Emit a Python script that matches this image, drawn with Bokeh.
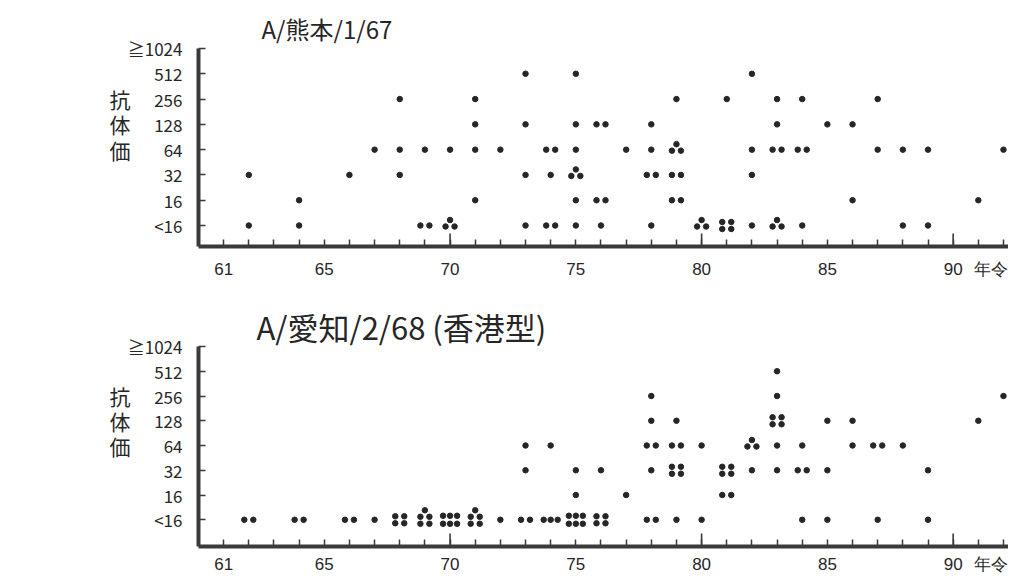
from bokeh.plotting import figure
from bokeh.models import FixedTicker, Range1d, LinearAxis
from bokeh.layouts import column
from bokeh.embed import file_html
from bokeh.resources import INLINE

# ---------------- data ----------------
titer_labels = ["<16", "16", "32", "64", "128", "256", "512", "≧1024"]
x_label_years = [61, 65, 70, 75, 80, 85, 90]
tick_years = list(range(61, 93))
decade_years = [70, 80, 90]
y_chars = ["抗", "体", "価"]
y_char_levels = [5, 4, 3]
x_title = "年令"

# A/熊本/1/67 : age (year), titer level index, number of sera
kum_year = [62, 62, 64, 64, 66, 67, 68, 68, 68, 69, 69, 70, 70, 71, 71, 71, 71, 72,
            73, 73, 73, 73, 74, 74, 74, 75, 75, 75, 75, 75, 75, 76, 76, 76, 77,
            78, 78, 78, 78, 79, 79, 79, 79, 80, 81, 81, 82, 82, 82, 82,
            83, 83, 83, 83, 84, 84, 84, 85, 86, 86, 87, 87, 88, 88, 89, 89, 91, 92]
kum_level = [2, 0, 1, 0, 2, 3, 5, 3, 2, 3, 0, 3, 0, 5, 4, 3, 1, 3,
             6, 4, 2, 0, 3, 2, 0, 6, 4, 3, 2, 1, 0, 4, 1, 0, 3,
             4, 3, 2, 0, 5, 3, 2, 1, 0, 5, 0, 6, 3, 2, 0,
             5, 4, 3, 0, 5, 3, 0, 4, 4, 1, 5, 3, 3, 0, 3, 0, 1, 3]
kum_count = [1, 1, 1, 1, 1, 1, 1, 1, 1, 1, 2, 1, 3, 1, 1, 1, 1, 1,
             1, 1, 1, 1, 2, 1, 2, 1, 1, 1, 3, 1, 1, 2, 2, 1, 1,
             1, 1, 2, 1, 1, 3, 2, 2, 3, 1, 4, 1, 1, 1, 1,
             1, 1, 2, 3, 1, 2, 1, 1, 1, 1, 1, 1, 1, 1, 1, 1, 1, 1]
kum_rows = []

# A/愛知/2/68 (香港型)
aic_year = [62, 64, 66, 67, 68, 69, 70, 71, 72, 73, 73, 73, 74, 74, 75, 75, 75, 76, 76, 77,
            78, 78, 78, 78, 78, 79, 79, 79, 79, 80, 80, 81, 81, 82, 82,
            83, 83, 83, 83, 83, 84, 84, 84, 85, 85, 85, 86, 86, 87, 87, 88, 89, 89, 91, 92]
aic_level = [0, 0, 0, 0, 0, 0, 0, 0, 0, 3, 2, 0, 3, 0, 2, 1, 0, 2, 0, 1,
             5, 4, 3, 2, 0, 4, 3, 2, 0, 3, 0, 2, 1, 3, 2,
             6, 5, 4, 3, 2, 3, 2, 0, 4, 2, 0, 4, 3, 3, 0, 3, 2, 0, 4, 5]
aic_count = [2, 2, 2, 1, 4, 5, 6, 5, 1, 1, 1, 2, 1, 3, 1, 1, 6, 1, 4, 1,
             1, 1, 2, 1, 2, 1, 2, 4, 1, 1, 1, 4, 2, 3, 1,
             1, 1, 4, 1, 1, 1, 2, 1, 1, 1, 1, 1, 1, 2, 1, 1, 1, 1, 1, 1]
aic_rows = [(74, 0)]

# ---------------- styling ----------------
FONT = "Noto Sans CJK JP"
NUMFONT = "Liberation Sans"
INK = "#262626"
AXIS = "#3a3a3a"
FIG_W = 1008
BORDER_LEFT = 198
X_START, X_END = 60.0, 92.2
Y_END = 7.0
DOT = 5.5

# cluster arrangements in screen pixels (y up)
PATTERNS = {
    1: [(0, 0)],
    2: [(-4.5, 0), (4.5, 0)],
    3: [(-4.5, -1), (4.5, -1), (0, 5.5)],
    4: [(-4.5, 3.5), (4.5, 3.5), (-4.5, -3.5), (4.5, -3.5)],
    5: [(0, 9.5), (-4.5, 3), (4.5, 3), (-4.5, -4), (4.5, -4)],
    6: [(-7, 4), (0, 4), (7, 4), (-7, -4), (0, -4), (7, -4)],
}
ROW3 = [(-7, 0), (0, 0), (7, 0)]


def build(title, title_size, title_dx, title_standoff, years, levels, counts, rows,
          height, border_top, border_bottom, y_start, x_standoff):
    frame_w = FIG_W - BORDER_LEFT
    frame_h = height - border_top - border_bottom
    ppx = frame_w / (X_END - X_START)
    ppy = frame_h / (Y_END - y_start)

    p = figure(width=FIG_W, height=height, title=title,
               x_range=Range1d(X_START, X_END), y_range=Range1d(y_start, Y_END),
               output_backend="svg", toolbar_location=None,
               min_border_left=BORDER_LEFT, min_border_right=0,
               min_border_top=border_top, min_border_bottom=border_bottom)
    p.outline_line_color = None
    p.xgrid.visible = False
    p.ygrid.visible = False
    p.background_fill_color = "white"
    p.border_fill_color = "white"

    p.title.align = "left"
    p.title.offset = title_dx
    p.title.standoff = title_standoff
    p.title.text_font = FONT
    p.title.text_font_size = f"{title_size}px"
    p.title.text_font_style = "normal"
    p.title.text_color = INK

    xs, ys = [], []
    for yr, lv, n in zip(years, levels, counts):
        pattern = ROW3 if (yr, lv) in rows else PATTERNS[n]
        for dx, dy in pattern:
            xs.append(yr + dx / ppx)
            ys.append(lv + dy / ppy)
    p.scatter(xs, ys, size=DOT, color=INK, line_color=INK)

    # taller ticks at the decades
    p.segment(x0=decade_years, y0=[y_start] * len(decade_years),
              x1=decade_years, y1=[y_start + 13 / ppy] * len(decade_years),
              line_color=AXIS, line_width=1.6)

    # x axis: visible ticks are the yearly minor ticks; major ticks only carry labels
    title_pos = x_label_years[-1] + 38 / ppx
    xa = p.xaxis[0]
    xa.ticker = FixedTicker(ticks=x_label_years + [title_pos], minor_ticks=tick_years)
    xa.major_label_overrides = {title_pos: x_title}
    xa.axis_line_width = 4
    xa.axis_line_color = AXIS
    xa.major_tick_line_color = None
    xa.major_tick_in = 0
    xa.major_tick_out = 0
    xa.minor_tick_in = 7
    xa.minor_tick_out = 0
    xa.minor_tick_line_color = AXIS
    xa.minor_tick_line_width = 1.5
    xa.major_label_text_font = NUMFONT
    xa.major_label_text_font_size = "17px"
    xa.major_label_text_color = INK
    xa.major_label_standoff = x_standoff

    ya = p.yaxis[0]
    ya.ticker = FixedTicker(ticks=list(range(len(titer_labels))), minor_ticks=[])
    ya.major_label_overrides = {i: t for i, t in enumerate(titer_labels)}
    ya.axis_line_width = 4
    ya.axis_line_color = AXIS
    ya.major_tick_in = 7
    ya.major_tick_out = 0
    ya.major_tick_line_color = AXIS
    ya.major_tick_line_width = 1.5
    ya.minor_tick_line_color = None
    ya.major_label_text_font = FONT
    ya.major_label_text_font_size = "17px"
    ya.major_label_text_color = INK
    ya.major_label_standoff = 16

    # vertical axis title, one character per row
    ta = LinearAxis(ticker=FixedTicker(ticks=y_char_levels, minor_ticks=[]))
    ta.major_label_overrides = {lv: ch for lv, ch in zip(y_char_levels, y_chars)}
    ta.axis_line_color = None
    ta.major_tick_line_color = None
    ta.minor_tick_line_color = None
    ta.major_tick_in = 0
    ta.major_tick_out = 0
    ta.major_label_standoff = -6
    ta.major_label_text_font = FONT
    ta.major_label_text_font_size = "21px"
    ta.major_label_text_color = INK
    p.add_layout(ta, "left")
    return p


p1 = build("A/熊本/1/67", 24, 63, 5, kum_year, kum_level, kum_count, kum_rows,
           height=288, border_top=48, border_bottom=42, y_start=-0.83, x_standoff=13)
p2 = build("A/愛知/2/68 (香港型)", 31, 58, -4, aic_year, aic_level, aic_count, aic_rows,
           height=289, border_top=58, border_bottom=31, y_start=-1.08, x_standoff=8)

layout = column(p1, p2, spacing=0)
open("out.html", "w").write(file_html(layout, INLINE))
